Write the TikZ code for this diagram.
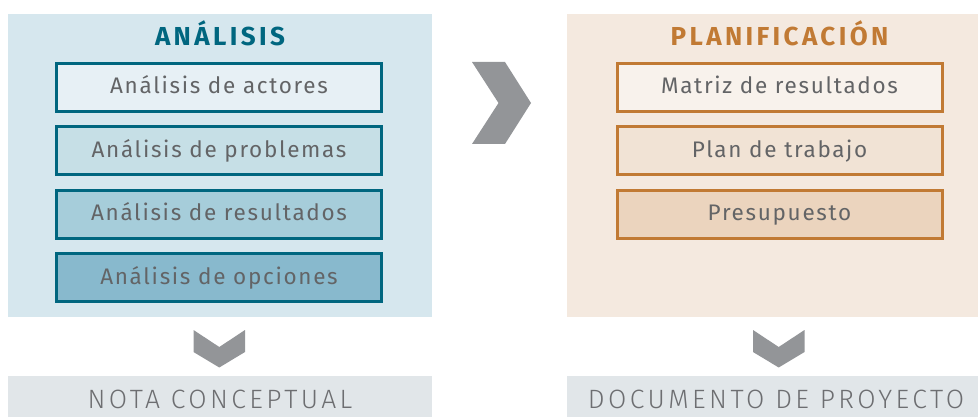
\documentclass[tikz,border=0pt]{standalone}
\usepackage{fontspec}
\setmainfont{Fira Sans}
\newfontfamily\boxfont[LetterSpace=7.5]{Fira Sans}
\newfontfamily\titlefont[LetterSpace=13]{Fira Sans}
\newfontfamily\lightfont[LetterSpace=13]{Fira Sans Light}
\definecolor{leftbg}{HTML}{D6E7EE}
\definecolor{lbox1}{HTML}{E7F0F5}
\definecolor{lbox2}{HTML}{C6DFE6}
\definecolor{lbox3}{HTML}{A6CDDA}
\definecolor{lbox4}{HTML}{88B9CD}
\definecolor{teal}{HTML}{00667F}
\definecolor{rightbg}{HTML}{F4E9DF}
\definecolor{rbox1}{HTML}{F8F2EC}
\definecolor{rbox2}{HTML}{F1E3D5}
\definecolor{rbox3}{HTML}{EBD4BE}
\definecolor{ochre}{HTML}{C17A34}
\definecolor{txtgray}{HTML}{636466}
\definecolor{chevgray}{HTML}{939598}
\definecolor{barbg}{HTML}{E1E6E9}
\definecolor{bartxt}{HTML}{6D6E71}
\tikzset{
  panel/.style={draw=none, inner sep=0pt, minimum height=303pt},
  titletext/.style={anchor=base, inner sep=0pt, font=\titlefont\bfseries\fontsize{26}{30}\selectfont},
  stepbox/.style={line width=3pt, inner sep=0pt, minimum width=325pt, minimum height=48pt,
    text=txtgray, text height=14pt, text depth=1pt, font=\boxfont\fontsize{22.5}{26}\selectfont},
  lbox/.style={stepbox, draw=teal},
  rbox/.style={stepbox, draw=ochre},
  chev/.style={fill=chevgray, draw=none},
  bar/.style={fill=barbg, draw=none, inner sep=0pt, minimum height=41pt, text=bartxt,
    text height=24pt, text depth=0pt, font=\lightfont\fontsize{26.5}{30}\selectfont}
}
\begin{document}
\begin{tikzpicture}[x=1pt,y=-1pt]
\useasboundingbox (0,0) rectangle (978,417);
% panels
\node[panel, fill=leftbg, minimum width=424pt] (lp) at (220,165.5) {};
\node[panel, fill=rightbg, minimum width=411pt] (rp) at (772.5,165.5) {};
% titles
\node[titletext, text=teal] (lt) at (220,46) {ANÁLISIS};
\node[titletext, text=ochre] (rt) at (779.5,46) {PLANIFICACIÓN};
% left boxes
\node[lbox, fill=lbox1] (a1) at (219,87.5) {Análisis de actores};
\node[lbox, fill=lbox2] (a2) at (219,151) {Análisis de problemas};
\node[lbox, fill=lbox3] (a3) at (219,214.5) {Análisis de resultados};
\node[lbox, fill=lbox4] (a4) at (219,277.5) {Análisis de opciones};
% right boxes
\node[rbox, fill=rbox1] (p1) at (779.5,87.5) {Matriz de resultados};
\node[rbox, fill=rbox2] (p2) at (779.5,151) {Plan de trabajo};
\node[rbox, fill=rbox3] (p3) at (779.5,214.5) {Presupuesto};
% chevrons
\fill[chev] (472,62) -- (505,62) -- (531,103) -- (505,144) -- (472,144) -- (498.5,103) -- cycle;
\fill[chev] (193.5,330) -- (219.3,347) -- (245,330) -- (245,352) -- (219.3,367.5) -- (193.5,352) -- cycle;
\fill[chev] (753,330) -- (778.7,347) -- (804.5,330) -- (804.5,352) -- (778.7,367.5) -- (753,352) -- cycle;
% bottom bars
\node[bar, minimum width=424pt] (nc) at (220,396.5) {NOTA CONCEPTUAL};
\node[bar, minimum width=411pt] (dp) at (772.5,396.5) {};
\node[bar, fill=none, minimum width=0pt] (dpt) at (776,396.5) {DOCUMENTO DE PROYECTO};
\end{tikzpicture}
\end{document}
